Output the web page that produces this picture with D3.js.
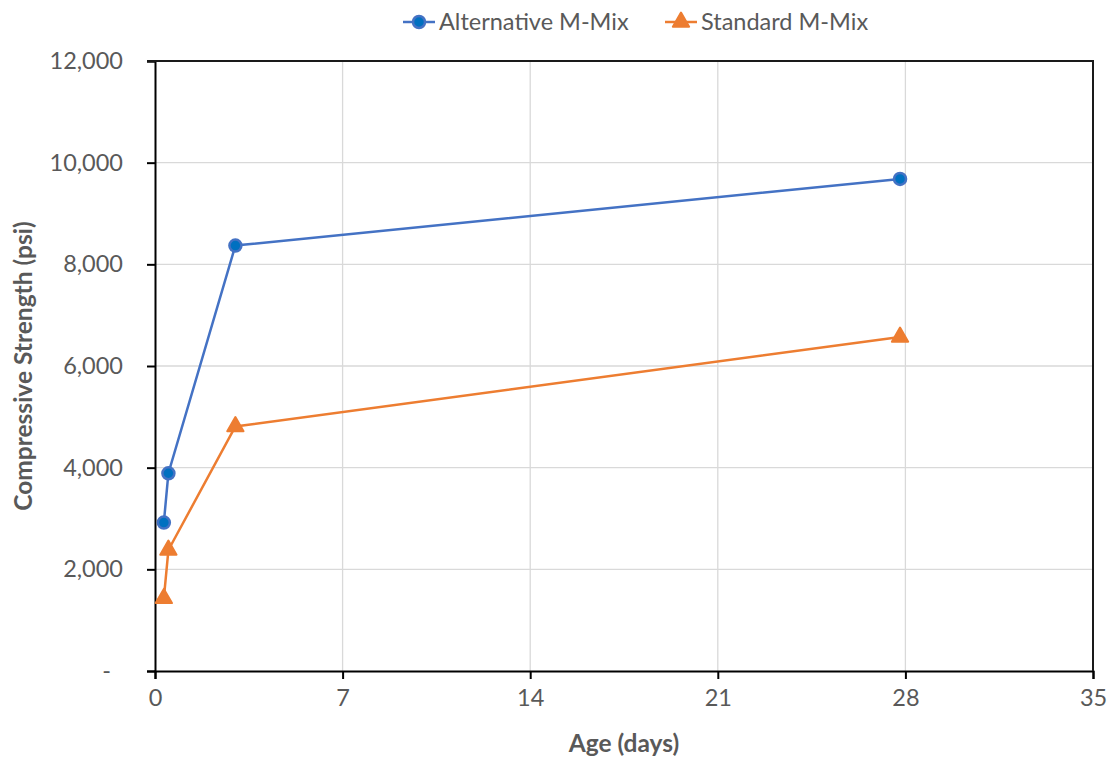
<!DOCTYPE html>
<html>
<head>
<meta charset="utf-8">
<script src="https://cdn.jsdelivr.net/npm/d3@7/dist/d3.min.js"></script>
<style>
  body { margin: 0; background: #fff; }
  text { font-family: Lato, "Open Sans", sans-serif; fill: #595959; }
</style>
</head>
<body>
<div id="chart"></div>
<script>
const width = 1110;
const height = 762;
const margin = { top: 61, right: 17, bottom: 91, left: 155 };

// data
const ageDays = [0.33, 0.5, 3, 27.8];
const alternativeMix = [2920, 3890, 8370, 9680];
const standardMix = [1430, 2380, 4810, 6570];
const seriesNames = ['Alternative M-Mix', 'Standard M-Mix'];
const xTicks = [0, 7, 14, 21, 28, 35];
const yTicks = [0, 2000, 4000, 6000, 8000, 10000, 12000];

const BLUE = '#4472C4';
const BLUE_DARK = '#0070C0';
const ORANGE = '#ED7D31';

const svg = d3.select('#chart')
  .append('svg')
  .attr('width', width)
  .attr('height', height);

const x = d3.scaleLinear()
  .domain([0, 35])
  .range([margin.left, width - margin.right]);

const y = d3.scaleLinear()
  .domain([0, 12000])
  .range([height - margin.bottom, margin.top]);

// gridlines
svg.append('g')
  .selectAll('line')
  .data(yTicks.slice(1, -1))
  .enter().append('line')
    .attr('x1', x(0)).attr('x2', x(35))
    .attr('y1', (d) => y(d)).attr('y2', (d) => y(d))
    .attr('stroke', '#d9d9d9').attr('stroke-width', 1.3);

svg.append('g')
  .selectAll('line')
  .data(xTicks.slice(1, -1))
  .enter().append('line')
    .attr('x1', (d) => x(d)).attr('x2', (d) => x(d))
    .attr('y1', y(0)).attr('y2', y(12000))
    .attr('stroke', '#d9d9d9').attr('stroke-width', 1.3);

// axes
const fmt = (d) => d === 0 ? '-' : d3.format(',')(d);

const xAxis = svg.append('g')
  .attr('transform', `translate(0, ${y(0)})`)
  .call(d3.axisBottom(x).tickValues(xTicks).tickSize(8).tickPadding(10));

const yAxis = svg.append('g')
  .attr('transform', `translate(${x(0)}, 0)`)
  .call(d3.axisLeft(y).tickValues(yTicks).tickFormat(fmt).tickSize(8).tickPadding(24));

[xAxis, yAxis].forEach((a) => {
  a.select('.domain').attr('stroke', '#000').attr('stroke-width', 2);
  a.selectAll('.tick line').attr('stroke', '#000').attr('stroke-width', 2);
  a.selectAll('.tick text')
    .style('font-size', '23.5px')
    .attr('fill', '#595959');
});

// accounting-style dash sits a bit further left
yAxis.selectAll('.tick text').filter((d) => d === 0).attr('dx', -12);

// top and right border of the plot box
svg.append('path')
  .attr('d', `M${x(0) - 8},${y(12000)} H${x(35)} V${y(0)}`)
  .attr('fill', 'none')
  .attr('stroke', '#1a1a1a')
  .attr('stroke-width', 2);

// axis titles
svg.append('text')
  .attr('x', (x(0) + x(35)) / 2)
  .attr('y', 752)
  .attr('text-anchor', 'middle')
  .style('font-size', '24.5px')
  .style('font-weight', 'bold')
  .text('Age (days)');

svg.append('text')
  .attr('transform', `translate(32, ${(y(0) + y(12000)) / 2}) rotate(-90)`)
  .attr('text-anchor', 'middle')
  .style('font-size', '24.5px')
  .style('font-weight', 'bold')
  .text('Compressive Strength (psi)');

// lines
const line = d3.line()
  .x((d) => x(d[0]))
  .y((d) => y(d[1]));

const altPoints = ageDays.map((d, i) => [d, alternativeMix[i]]);
const stdPoints = ageDays.map((d, i) => [d, standardMix[i]]);

svg.append('path')
  .datum(altPoints)
  .attr('d', line)
  .attr('fill', 'none')
  .attr('stroke', BLUE)
  .attr('stroke-width', 2.5);

svg.append('path')
  .datum(stdPoints)
  .attr('d', line)
  .attr('fill', 'none')
  .attr('stroke', ORANGE)
  .attr('stroke-width', 2.5);

const triangle = d3.symbol().type(d3.symbolTriangle).size(115);

svg.append('g')
  .selectAll('circle')
  .data(altPoints)
  .enter().append('circle')
    .attr('cx', (d) => x(d[0]))
    .attr('cy', (d) => y(d[1]))
    .attr('r', 6)
    .attr('fill', BLUE_DARK)
    .attr('stroke', BLUE)
    .attr('stroke-width', 2.5);

svg.append('g')
  .selectAll('path')
  .data(stdPoints)
  .enter().append('path')
    .attr('d', triangle)
    .attr('transform', (d) => `translate(${x(d[0])}, ${y(d[1])})`)
    .attr('fill', ORANGE)
    .attr('stroke', ORANGE)
    .attr('stroke-width', 2)
    .attr('stroke-linejoin', 'round');

// legend
const legendX = [403, 665];
const legend = svg.append('g')
  .selectAll('g')
  .data(seriesNames)
  .enter().append('g')
    .attr('transform', (d, i) => `translate(${legendX[i]}, 22)`);

legend.append('line')
  .attr('x1', 0).attr('x2', 32)
  .attr('stroke', (d, i) => i === 0 ? BLUE : ORANGE)
  .attr('stroke-width', 2.5);

legend.filter((d, i) => i === 0).append('circle')
  .attr('cx', 16).attr('r', 6)
  .attr('fill', BLUE_DARK)
  .attr('stroke', BLUE)
  .attr('stroke-width', 2.5);

legend.filter((d, i) => i === 1).append('path')
  .attr('d', triangle)
  .attr('transform', 'translate(16, 0)')
  .attr('fill', ORANGE)
  .attr('stroke', ORANGE)
  .attr('stroke-width', 2)
  .attr('stroke-linejoin', 'round');

legend.append('text')
  .attr('x', 36)
  .attr('dy', '0.35em')
  .style('font-size', '23.5px')
  .text((d) => d);
</script>
</body>
</html>
